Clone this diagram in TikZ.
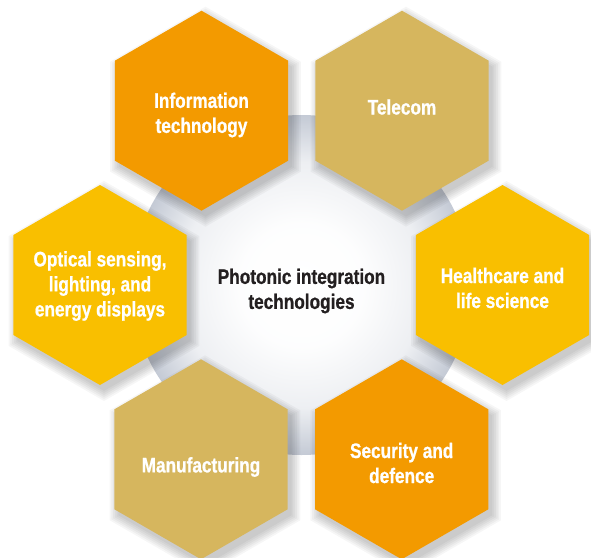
\documentclass[tikz,border=0pt]{standalone}
\usepackage{fontspec}
\setmainfont{Liberation Sans}[FakeStretch=0.82, BoldFeatures={FakeBold=0.8}]

\definecolor{hexorange}{RGB}{243,154,0}
\definecolor{hextan}{RGB}{214,182,94}
\definecolor{hexyellow}{RGB}{249,191,0}
\definecolor{discedge}{RGB}{196,202,213}
\definecolor{darktext}{RGB}{35,31,32}

% soft white-to-grey disc behind the hexagons
\pgfdeclareradialshading{discshade}{\pgfpoint{0bp}{0bp}}{%
  color(0bp)=(white);
  color(9bp)=(white!97!discedge);
  color(18bp)=(white!70!discedge);
  color(25bp)=(discedge);
  color(50bp)=(discedge)}

\tikzset{
  shadowlayer/.style={fill=black, fill opacity=0.035, draw=none},
  hexlabel/.style={text=white, align=center, inner sep=0pt,
    font=\bfseries\fontsize{21}{25}\selectfont},
  hubtext/.style={text=darktext, align=center, inner sep=0pt,
    font=\bfseries\fontsize{21}{25}\selectfont}
}

% pointy-topped hexagon path of a given circumradius around a centre
\newcommand\hexpath[2]{%
  (#1) ++(90:#2) -- ++(210:#2) -- ++(270:#2) -- ++(330:#2) -- ++(30:#2) -- ++(90:#2) -- cycle}

% hexagon of circumradius 100 with a soft shadow to the lower right
\newcommand\hexagonat[2]{%
  \begin{scope}[shift={(4,6)}]
    \foreach \r in {100,102,104,106,108,110}{\fill[shadowlayer] \hexpath{#1}{\r};}
  \end{scope}
  \fill[fill=#2] \hexpath{#1}{100};}

\begin{document}
\begin{tikzpicture}[x=1pt,y=-1pt]
  \useasboundingbox (0,0) rectangle (591,557);
  \fill[white] (0,0) rectangle (591,557);

  % central disc
  \shade[shading=discshade] (301.5,285) circle (170);

  % ring of application areas
  \hexagonat{201.5,110.7}{hexorange}
  \hexagonat{402,110.7}{hextan}
  \hexagonat{100,285}{hexyellow}
  \hexagonat{502.5,285}{hexyellow}
  \hexagonat{201,459.3}{hextan}
  \hexagonat{401.7,459.3}{hexorange}

  \node[hexlabel] (it)      at (201.5,115) {Information\\technology};
  \node[hexlabel] (telecom) at (402,107)   {Telecom};
  \node[hexlabel] (optical) at (100,286)   {Optical sensing,\\lighting, and\\energy displays};
  \node[hexlabel] (health)  at (502.5,288) {Healthcare and\\life science};
  \node[hexlabel] (manuf)   at (201,467)   {Manufacturing};
  \node[hexlabel] (secur)   at (401.7,463) {Security and\\defence};

  % hub label
  \node[hubtext] (hub) at (301.5,291) {Photonic integration\\technologies};
\end{tikzpicture}
\end{document}
